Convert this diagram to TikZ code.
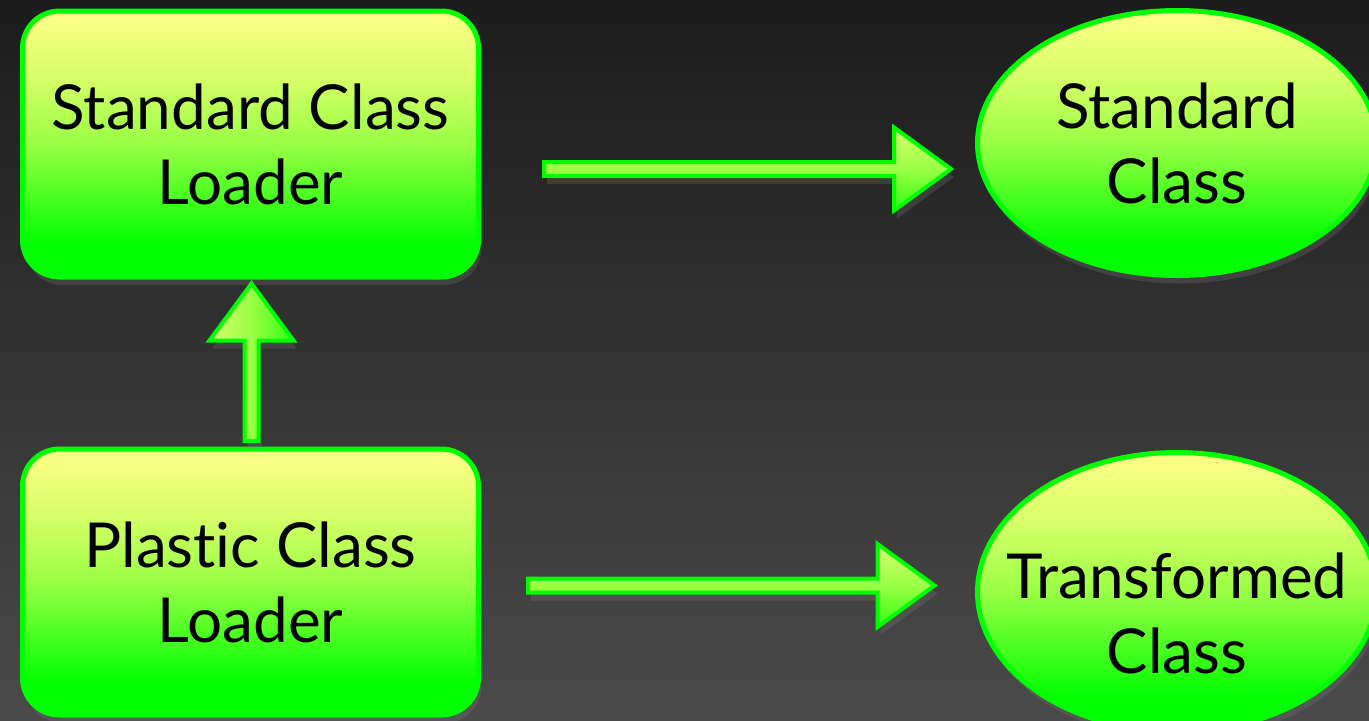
\documentclass[tikz,border=0pt]{standalone}
\usepackage{fontspec}
\setmainfont{Lato}[Ligatures=NoCommon]
\usetikzlibrary{calc,shadows,shapes.geometric}
\definecolor{bgtop}{HTML}{1C1C1C}
\definecolor{bgbot}{HTML}{4A4A4A}
\definecolor{lime}{HTML}{00FF00}
\definecolor{filltop}{HTML}{FFFF88}
\definecolor{fillupper}{HTML}{D4FF66}
\definecolor{fillmid}{HTML}{99FF44}
\definecolor{fillbot}{HTML}{00FF00}
\definecolor{arrtop}{HTML}{D8FF70}
\definecolor{arrmid}{HTML}{99FF44}
\definecolor{arrbot}{HTML}{33FF11}
\pgfdeclareverticalshading{boxshade}{100bp}{color(0bp)=(fillbot); color(25bp)=(fillbot); color(31bp)=(fillbot); color(50bp)=(fillmid); color(62bp)=(fillupper); color(75bp)=(filltop); color(100bp)=(filltop)}
\newcommand\harr[2]{\draw[harrow] ($(#1)+(0,-7)$) -- ($(#2)+(-57,-7)$) -- ($(#2)+(-57,-41.5)$) -- (#2) -- ($(#2)+(-57,41.5)$) -- ($(#2)+(-57,7)$) -- ($(#1)+(0,7)$) -- cycle;}
\newcommand\uarr[2]{\draw[varrow] ($(#1)+(-7,0)$) -- ($(#2)+(-7,57)$) -- ($(#2)+(-42,57)$) -- (#2) -- ($(#2)+(42,57)$) -- ($(#2)+(7,57)$) -- ($(#1)+(7,0)$) -- cycle;}
\begin{document}
\begin{tikzpicture}[x=0.5pt,y=-0.5pt,
  shadowed/.style={drop shadow={opacity=0.25,shadow xshift=1.5pt,shadow yshift=-4pt}},
  txt/.style={font=\fontsize{31}{37.5}\selectfont,align=center,text=black},
  loader/.style={txt,shadowed,draw=lime,line width=2.5pt,rounded corners=18.5pt,minimum width=228pt,minimum height=133pt,inner sep=0pt,shading=boxshade},
  klass/.style={txt,shadowed,ellipse,draw=lime,line width=2.5pt,minimum width=199.5pt,inner sep=0pt,shading=boxshade},
  harrow/.style={shadowed,draw=lime,line width=2pt,line join=miter,top color=arrtop,bottom color=arrbot,middle color=arrmid},
  varrow/.style={shadowed,draw=lime,line width=2pt,line join=miter,left color=arrtop,right color=arrbot,middle color=arrmid},
]
\useasboundingbox (0,0) rectangle (1369,720);
\shade[top color=bgtop,bottom color=bgbot] (0,0) rectangle (1369,720);

\node[loader] (scl) at (250.5,144) {Standard Class\\Loader};
\node[loader] (pcl) at (250.5,582) {Plast\kern0pt ic Class\\Loader};
\node[klass,minimum height=132.5pt] (sc) at (1177,143) {Standard\\Class};
\node[klass,minimum height=139.5pt,label={[txt,yshift=-10.5pt]center:{Transformed\\Class}}] (tc) at (1177,592) {};

\coordinate (a1t) at (544,169);
\coordinate (a1p) at (951,169);
\coordinate (a2t) at (528,585.5);
\coordinate (a2p) at (934.5,585.5);
\coordinate (a3t) at (251.5,441);
\coordinate (a3p) at (251.5,283.5);

\harr{a1t}{a1p}
\harr{a2t}{a2p}
\uarr{a3t}{a3p}
\end{tikzpicture}
\end{document}
